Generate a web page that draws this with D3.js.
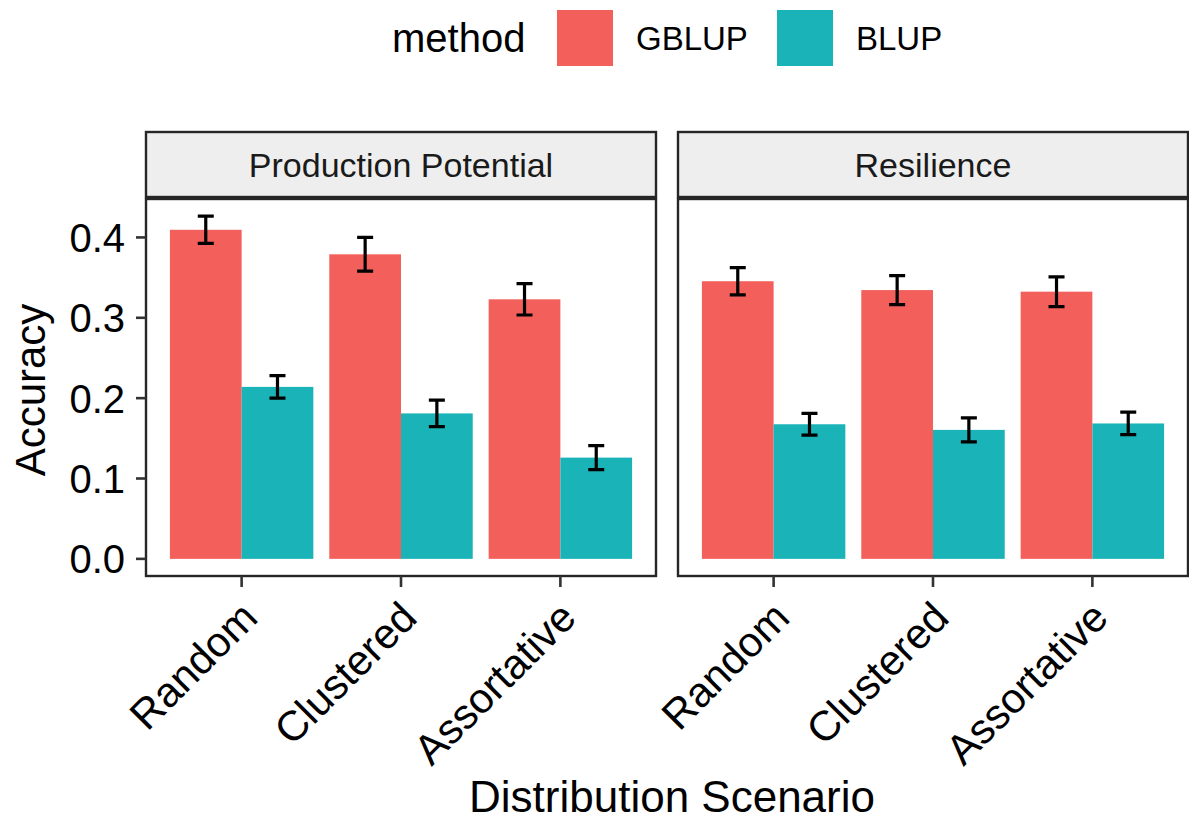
<!DOCTYPE html>
<html lang="en">
  <head>
    <meta charset="UTF-8" />
    <script src="https://d3js.org/d3.v7.min.js"></script>
    <style>
      body {
        margin: 0;
        background: #fff;
      }
      text {
        font-family: "Liberation Sans", Arial, sans-serif;
        fill: #000;
      }
      .frame {
        fill: none;
        stroke: #262626;
        stroke-width: 2.4px;
      }
      .strip {
        fill: #eeeeee;
        stroke: #262626;
        stroke-width: 2.4px;
      }
      .tick-line {
        stroke: #333;
        stroke-width: 2.6px;
      }
      .err {
        stroke: #000;
        stroke-width: 3.2px;
        fill: none;
      }
    </style>
    <title>Accuracy by scenario</title>
  </head>
  <body>
    <svg id="chart" width="1189" height="820"></svg>
    <script>
      // data
      const scenarios = ["Random", "Clustered", "Assortative"];
      const methods = ["GBLUP", "BLUP"];
      const traits = ["Production Potential", "Resilience"];
      const methodColors = ["#f3605c", "#19b3b8"];

      const accProdGBLUP = [0.4095, 0.379, 0.323];
      const seProdGBLUP = [0.017, 0.021, 0.0195];
      const accProdBLUP = [0.214, 0.181, 0.126];
      const seProdBLUP = [0.014, 0.0165, 0.015];
      const accResGBLUP = [0.3455, 0.3345, 0.3325];
      const seResGBLUP = [0.017, 0.018, 0.0185];
      const accResBLUP = [0.1675, 0.1605, 0.1685];
      const seResBLUP = [0.0135, 0.015, 0.014];

      const yTicks = [0, 0.1, 0.2, 0.3, 0.4];

      // build rows
      const acc = {
        "Production Potential": { GBLUP: accProdGBLUP, BLUP: accProdBLUP },
        Resilience: { GBLUP: accResGBLUP, BLUP: accResBLUP },
      };
      const se = {
        "Production Potential": { GBLUP: seProdGBLUP, BLUP: seProdBLUP },
        Resilience: { GBLUP: seResGBLUP, BLUP: seResBLUP },
      };
      const rows = [];
      traits.forEach((t) =>
        methods.forEach((m) =>
          scenarios.forEach((s, i) =>
            rows.push({ trait: t, method: m, scenario: s, acc: acc[t][m][i], se: se[t][m][i] })
          )
        )
      );

      const svg = d3.select("#chart");
      const panelTop = 199,
        panelBottom = 576,
        panelW = 510,
        stripTop = 132,
        stripBottom = 197;
      const panelLefts = [146, 678];

      // ggplot-like 5% expansion
      const yMax = d3.max(rows, (d) => d.acc + d.se);
      const pad = yMax * 0.05;
      const y = d3.scaleLinear().domain([-pad, yMax + pad]).range([panelBottom, panelTop]);

      const color = d3.scaleOrdinal().domain(methods).range(methodColors);

      traits.forEach((trait, pi) => {
        const left = panelLefts[pi];
        const g = svg.append("g").attr("transform", `translate(${left},0)`);

        const x = d3
          .scaleBand()
          .domain(scenarios)
          .range([0, panelW])
          .paddingInner(0.1)
          .paddingOuter(0.15);
        const xm = d3.scaleBand().domain(methods).range([0, x.bandwidth()]);

        // strip
        g.append("rect")
          .attr("class", "strip")
          .attr("x", 0)
          .attr("y", stripTop)
          .attr("width", panelW)
          .attr("height", stripBottom - stripTop);
        g.append("text")
          .attr("x", panelW / 2)
          .attr("y", (stripTop + stripBottom) / 2)
          .attr("dy", "0.36em")
          .attr("text-anchor", "middle")
          .style("font-size", "34px")
          .style("fill", "#1a1a1a")
          .text(trait);

        const data = rows.filter((d) => d.trait === trait);

        g.selectAll("rect.bar")
          .data(data)
          .join("rect")
          .attr("class", "bar")
          .attr("x", (d) => x(d.scenario) + xm(d.method))
          .attr("width", xm.bandwidth())
          .attr("y", (d) => y(d.acc))
          .attr("height", (d) => y(0) - y(d.acc))
          .attr("fill", (d) => color(d.method));

        // error bars
        const capW = 16;
        const eb = g
          .selectAll("g.eb")
          .data(data)
          .join("g")
          .attr("class", "eb")
          .attr("transform", (d) => `translate(${x(d.scenario) + xm(d.method) + xm.bandwidth() / 2},0)`);
        eb.append("path")
          .attr("class", "err")
          .attr(
            "d",
            (d) =>
              `M${-capW / 2},${y(d.acc + d.se)}H${capW / 2}M0,${y(d.acc + d.se)}V${y(d.acc - d.se)}M${-capW / 2},${y(
                d.acc - d.se
              )}H${capW / 2}`
          );

        // frame
        g.append("rect")
          .attr("class", "frame")
          .attr("x", 0)
          .attr("y", panelTop)
          .attr("width", panelW)
          .attr("height", panelBottom - panelTop);

        // x ticks
        g.selectAll("line.xt")
          .data(scenarios)
          .join("line")
          .attr("class", "tick-line")
          .attr("x1", (d) => x(d) + x.bandwidth() / 2)
          .attr("x2", (d) => x(d) + x.bandwidth() / 2)
          .attr("y1", panelBottom)
          .attr("y2", panelBottom + 11);

        g.selectAll("text.xl")
          .data(scenarios)
          .join("text")
          .attr("class", "xl")
          .attr("transform", (d) => `translate(${x(d) + x.bandwidth() / 2 + 18},620) rotate(-45)`)
          .attr("text-anchor", "end")
          .style("font-size", "42px")
          .text((d) => d);

        // y axis only on first panel
        if (pi === 0) {
          g.selectAll("line.yt")
            .data(yTicks)
            .join("line")
            .attr("class", "tick-line")
            .attr("x1", -10)
            .attr("x2", 0)
            .attr("y1", (d) => y(d))
            .attr("y2", (d) => y(d));
          g.selectAll("text.yl")
            .data(yTicks)
            .join("text")
            .attr("class", "yl")
            .attr("x", -21)
            .attr("y", (d) => y(d))
            .attr("dy", "0.36em")
            .attr("text-anchor", "end")
            .style("font-size", "40px")
            .text((d) => d3.format(".1f")(d));
        }
      });

      // axis titles
      svg
        .append("text")
        .attr("x", 672)
        .attr("y", 812)
        .attr("text-anchor", "middle")
        .style("font-size", "44px")
        .text("Distribution Scenario");

      svg
        .append("text")
        .attr("transform", `translate(45,390) rotate(-90)`)
        .attr("text-anchor", "middle")
        .style("font-size", "42px")
        .text("Accuracy");

      // legend
      const legend = svg.append("g").attr("transform", "translate(392,0)");
      legend
        .append("text")
        .attr("x", 0)
        .attr("y", 38)
        .attr("dy", "0.36em")
        .style("font-size", "40px")
        .text("method");
      const keyX = [165, 385];
      const lg = legend
        .selectAll("g.key")
        .data(methods)
        .join("g")
        .attr("class", "key")
        .attr("transform", (d, i) => `translate(${keyX[i]},10)`);
      lg.append("rect")
        .attr("width", 56)
        .attr("height", 56)
        .attr("fill", (d) => color(d));
      lg.append("text")
        .attr("x", 79)
        .attr("y", 28)
        .attr("dy", "0.36em")
        .style("font-size", "33px")
        .text((d) => d);
    </script>
  </body>
</html>
